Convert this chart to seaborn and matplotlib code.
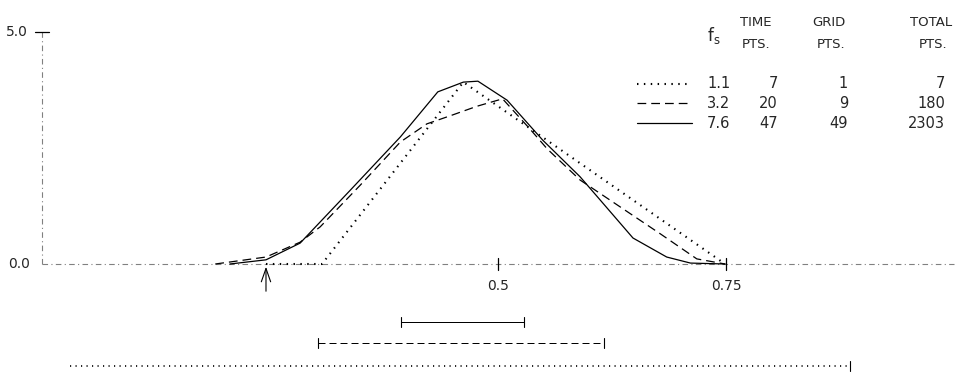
import numpy as np
import pandas as pd
import matplotlib
matplotlib.use("Agg")
import matplotlib.pyplot as plt
import seaborn as sns

# ---------------- data ----------------
fs_labels = ["1.1", "3.2", "7.6"]
time_pts = ["7", "20", "47"]
grid_pts = ["1", "9", "49"]
total_pts = ["7", "180", "2303"]

x_dot = [0.2456, 0.307, 0.462, 0.749]
y_dot = [0.0, 0.0, 3.92, 0.0]

x_dash = [0.190, 0.2456, 0.283, 0.305, 0.349, 0.393, 0.422, 0.447, 0.477, 0.505,
          0.535, 0.554, 0.590, 0.634, 0.678, 0.718, 0.749]
y_dash = [0.0, 0.15, 0.47, 0.80, 1.70, 2.63, 3.02, 3.19, 3.40, 3.56,
          2.91, 2.48, 1.81, 1.23, 0.65, 0.11, 0.0]

x_solid = [0.206, 0.2456, 0.283, 0.338, 0.393, 0.434, 0.462, 0.478, 0.510,
           0.549, 0.590, 0.612, 0.648, 0.685, 0.711, 0.749]
y_solid = [0.0, 0.09, 0.45, 1.59, 2.74, 3.71, 3.92, 3.94, 3.53,
           2.67, 1.88, 1.38, 0.56, 0.15, 0.02, 0.0]

bar_lo = [0.031, 0.303, 0.394]   # dotted, dashed, solid extents
bar_hi = [0.886, 0.616, 0.529]

arrow_x = 0.2456
x_ticks = [0.5, 0.75]
x_tick_labels = ["0.5", "0.75"]
y_ticks = [0.0, 5.0]
y_tick_labels = ["0.0", "5.0"]

# ---------------- layout helpers ----------------
X0, XS = 42.0, 912.0     # pixel of x=0, pixels per unit
Y0, YS = 264.0, 46.4     # pixel of y=0, pixels per unit
W, H = 964, 375


def P(xp, yp):
    return (xp - X0) / XS, (Y0 - yp) / YS


sns.set_theme(style="white")
plt.rcParams["font.family"] = ["DejaVu Sans"]

fig = plt.figure(figsize=(W / 100, H / 100), dpi=100)
ax = fig.add_axes([0, 0, 1, 1])

frames = []
for lab, xs, ys in [("1.1", x_dot, y_dot), ("3.2", x_dash, y_dash), ("7.6", x_solid, y_solid)]:
    frames.append(pd.DataFrame({"x": xs, "y": ys, "fs": lab}))
df = pd.concat(frames, ignore_index=True)

dash_map = {"1.1": (0.7, 2.6), "3.2": (7, 4), "7.6": ""}
width_map = {"1.1": 1.5, "3.2": 0.9, "7.6": 0.9}

# axes (dash-dot grey)
ax.plot([0, 1.0], [0, 0], color="#808080", lw=0.8, ls=(0, (5, 3, 1, 3)), zorder=1)
ax.plot([0, 0], [0, 5.0], color="#808080", lw=0.8, ls=(0, (5, 3, 1, 3)), zorder=1)

for lab in fs_labels:
    sub = df[df["fs"] == lab]
    sns.lineplot(data=sub, x="x", y="y", ax=ax, color="black", lw=width_map[lab],
                 estimator=None, sort=False, legend=False, zorder=3)
    line = ax.lines[-1]
    if dash_map[lab]:
        line.set_dashes(dash_map[lab])

# ticks
for t, tl in zip(x_ticks, x_tick_labels):
    ax.plot([t, t], [-0.14, 0.14], color="black", lw=0.9)
    ax.text(t, -0.33, tl, ha="center", va="top", fontsize=10)
ax.plot([-0.008, 0.008], [5.0, 5.0], color="black", lw=0.9)
ax.text(P(28, 0)[0], 5.0, y_tick_labels[1], ha="right", va="center", fontsize=10)
ax.text(P(30, 0)[0], 0.0, y_tick_labels[0], ha="right", va="center", fontsize=10)

# arrow
ax.annotate("", xy=(arrow_x, 0.0), xytext=(arrow_x, P(0, 294)[1]),
            arrowprops=dict(arrowstyle="->,head_length=0.8,head_width=0.28", lw=0.8, color="black"))

# range bars
bar_y = [P(0, 366)[1], P(0, 343)[1], P(0, 322)[1]]
cap = 0.11
for i, lab in enumerate(fs_labels):
    yb = bar_y[i]
    l, = ax.plot([bar_lo[i], bar_hi[i]], [yb, yb], color="black", lw=width_map[lab] * 0.8)
    if dash_map[lab]:
        l.set_dashes(dash_map[lab])
    if i > 0:
        ax.plot([bar_lo[i], bar_lo[i]], [yb - cap, yb + cap], color="black", lw=0.8)
    ax.plot([bar_hi[i], bar_hi[i]], [yb - cap, yb + cap], color="black", lw=0.8)

# legend table
hx = {"fs": 714, "time": 756, "grid": 829, "total": 931}
ax.text(*P(hx["fs"], 35), r"f$_\mathregular{s}$", ha="center", va="center", fontsize=12)
for key, word in [("time", "TIME"), ("grid", "GRID"), ("total", "TOTAL")]:
    ax.text(*P(hx[key], 22), word, ha="center", va="center", fontsize=9.5)
    ax.text(*P(hx[key] + (2 if key != "time" else 0), 45), "PTS.", ha="center", va="center", fontsize=9.5)

row_y = [84, 103, 123]
for i, lab in enumerate(fs_labels):
    yy = P(0, row_y[i])[1]
    l, = ax.plot([P(637, 0)[0], P(692, 0)[0]], [yy, yy], color="black", lw=width_map[lab])
    if dash_map[lab]:
        l.set_dashes(dash_map[lab])
    ax.text(P(707, 0)[0], yy, lab, ha="left", va="center", fontsize=10.5)
    ax.text(P(778, 0)[0], yy, time_pts[i], ha="right", va="center", fontsize=10.5)
    ax.text(P(848, 0)[0], yy, grid_pts[i], ha="right", va="center", fontsize=10.5)
    ax.text(P(945, 0)[0], yy, total_pts[i], ha="right", va="center", fontsize=10.5)

ax.set_xlim(P(0, 0)[0], P(W, 0)[0])
ax.set_ylim(P(0, H)[1], P(0, 0)[1])
ax.axis("off")

fig.savefig("out.png", dpi=100, facecolor="white")
